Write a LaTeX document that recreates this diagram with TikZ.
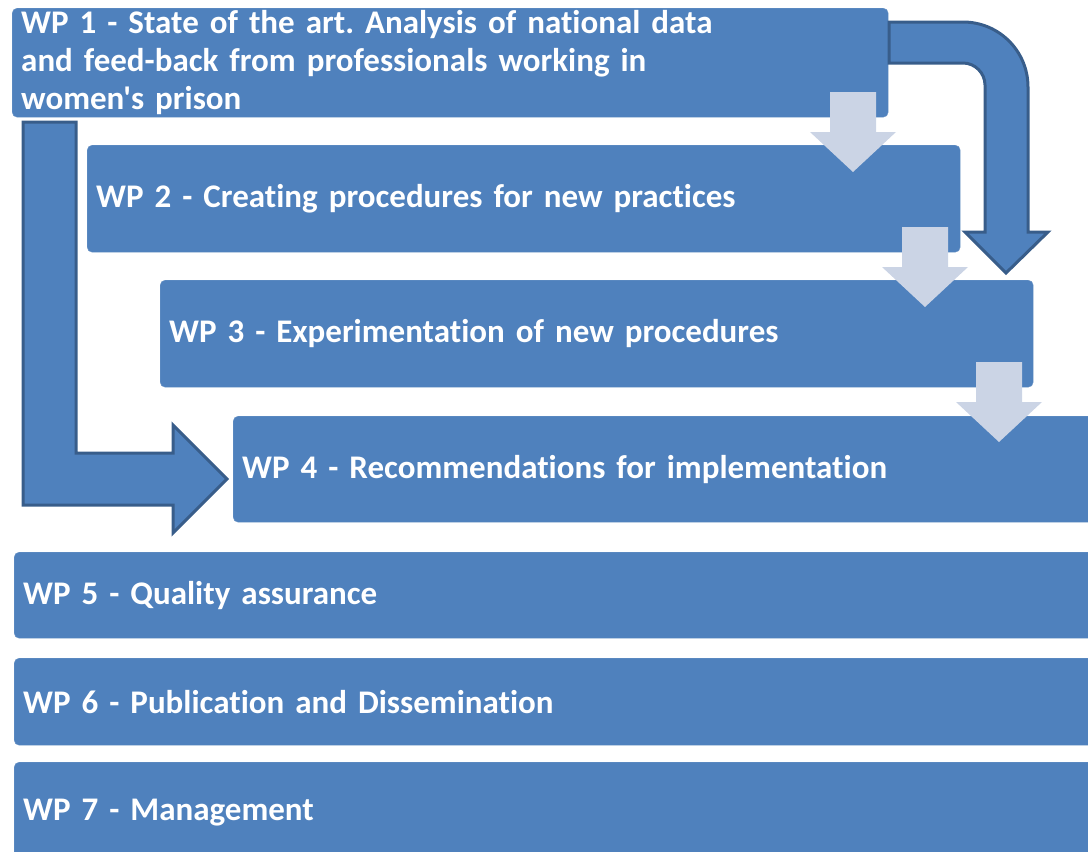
\documentclass[tikz,border=0pt]{standalone}
\usepackage{fontspec}
\setmainfont{Carlito}[Ligatures={NoCommon,NoRequired,TeXOff}]
\definecolor{wpblue}{RGB}{79,129,189}
\definecolor{wpedge}{RGB}{110,150,198}
\definecolor{arrowedge}{RGB}{56,93,138}
\definecolor{flowgray}{RGB}{203,212,229}
\tikzset{
  wpbox/.style={draw=wpedge, fill=wpblue, rounded corners=5pt, anchor=north west,
    inner xsep=9pt, inner ysep=0pt, align=left, text=white,
    font=\fontsize{33}{38}\selectfont\bfseries\frenchspacing},
  bigarrow/.style={draw=arrowedge, fill=wpblue, line width=3pt},
  flowarrow/.style={fill=flowgray}
}
\begin{document}
\begin{tikzpicture}[x=1pt,y=-1pt]
\useasboundingbox (0,0) rectangle (1088,852);
\clip (0,0) rectangle (1088,852);

% Work packages
\node[wpbox, text width=858pt, minimum height=109pt] (wp1) at (12,8)
  {WP 1 - State of the art. Analysis of national data\\and feed-back from professionals working in\\women's prison};
\node[wpbox, text width=855pt, minimum height=107pt] (wp2) at (87,145) {WP 2 - Creating procedures for new practices};
\node[wpbox, text width=855pt, minimum height=107pt] (wp3) at (160,280) {WP 3 - Experimentation of new procedures};
\node[wpbox, text width=880pt, minimum height=106pt] (wp4) at (233,416) {WP 4 - Recommendations for implementation};
\node[wpbox, text width=1100pt, minimum height=86pt] (wp5) at (14,552) {WP 5 - Quality assurance};
\node[wpbox, text width=1100pt, minimum height=87pt] (wp6) at (14,658) {WP 6 - Publication and Dissemination};
\node[wpbox, text width=1100pt, minimum height=100pt] (wp7) at (14,762) {WP 7 - Management};

% Light arrows between the steps
\foreach \cx/\ty in {853/92, 925/227, 999/362}
  \fill[flowarrow] (\cx-23,\ty) -- (\cx+23,\ty) -- (\cx+23,\ty+40) -- (\cx+43,\ty+40)
    -- (\cx,\ty+80) -- (\cx-43,\ty+40) -- (\cx-23,\ty+40) -- cycle;

% Big arrow from WP 1 down to WP 4
\draw[bigarrow] (23,122) -- (76,122) -- (76,453) -- (173,453) -- (173,425) -- (227,479)
  -- (173,533) -- (173,505) -- (23,505) -- cycle;

% Curved arrow from WP 1 to WP 3
\draw[bigarrow] (889,22) -- (963,22) .. controls (999,22) and (1028,51) .. (1028,87)
  -- (1028,232) -- (1048,232) -- (1006,273) -- (965,232) -- (985,232) -- (985,85)
  .. controls (985,73) and (975,63) .. (963,63) -- (889,63) -- cycle;
\end{tikzpicture}
\end{document}
